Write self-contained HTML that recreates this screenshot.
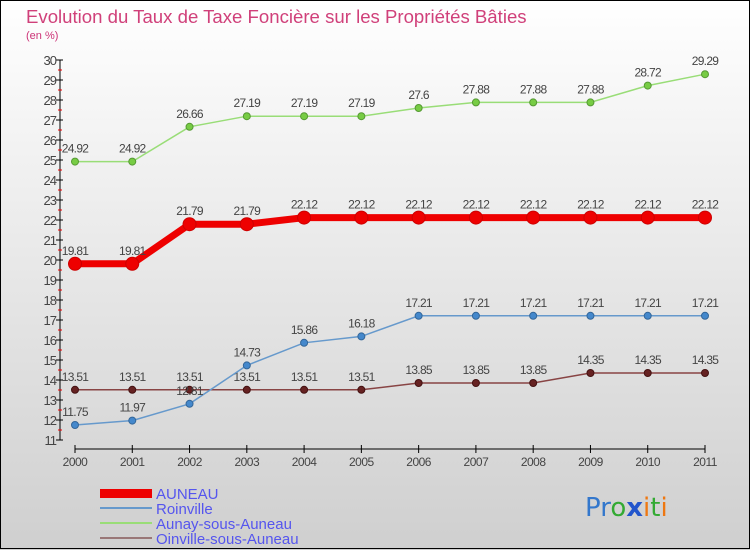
<!DOCTYPE html>
<html><head><meta charset="utf-8"><style>
body{margin:0}
svg{display:block;font-family:"Liberation Sans",sans-serif}
</style></head><body>
<svg width="750" height="550" viewBox="0 0 750 550">
<defs><linearGradient id="bg" x1="0" y1="0" x2="0" y2="1"><stop offset="0" stop-color="#ffffff"/><stop offset="1" stop-color="#cfcfcf"/></linearGradient></defs>
<rect x="0" y="0" width="750" height="550" fill="url(#bg)"/>
<rect x="0.5" y="0.5" width="749" height="548" fill="none" stroke="#000"/>
<text x="26" y="23" font-size="18.6" fill="#d0407a">Evolution du Taux de Taxe Foncière sur les Propriétés Bâties</text>
<text x="26" y="39" font-size="11" fill="#cc3377">(en %)</text>
<g id="axes"></g>
<g id="series"></g>
<g>
<rect x="100" y="489" width="52" height="9" fill="#ee0000"/>
<text x="156" y="499" font-size="15" fill="#5555ee">AUNEAU</text>
<line x1="100" y1="508" x2="152" y2="508" stroke="#6699cc" stroke-width="2"/>
<text x="156" y="514" font-size="15" fill="#5555ee">Roinville</text>
<line x1="100" y1="523" x2="152" y2="523" stroke="#99dd77" stroke-width="2"/>
<text x="156" y="529" font-size="15" fill="#5555ee">Aunay-sous-Auneau</text>
<line x1="100" y1="538" x2="152" y2="538" stroke="#997777" stroke-width="2"/>
<text x="156" y="544" font-size="15" fill="#5555ee">Oinville-sous-Auneau</text>
</g>
<g font-size="26" font-family="'DejaVu Sans',sans-serif">
<text x="585" y="516"><tspan fill="#3377cc">Pr</tspan><tspan fill="#33aa33">o</tspan><tspan fill="#2255cc" font-weight="bold">x</tspan><tspan fill="#ee7711">i</tspan><tspan fill="#33aa33">t</tspan><tspan fill="#ee7711">i</tspan></text>
</g>
</svg>
<script>
const years=[2000,2001,2002,2003,2004,2005,2006,2007,2008,2009,2010,2011];
const yTicks=[11,12,13,14,15,16,17,18,19,20,21,22,23,24,25,26,27,28,29,30];
const auneau=[19.81,19.81,21.79,21.79,22.12,22.12,22.12,22.12,22.12,22.12,22.12,22.12];
const roinville=[11.75,11.97,12.81,14.73,15.86,16.18,17.21,17.21,17.21,17.21,17.21,17.21];
const aunay=[24.92,24.92,26.66,27.19,27.19,27.19,27.6,27.88,27.88,27.88,28.72,29.29];
const oinville=[13.51,13.51,13.51,13.51,13.51,13.51,13.85,13.85,13.85,14.35,14.35,14.35];
const NS='http://www.w3.org/2000/svg';
const X=i=>75+i*(630/(years.length-1));
const Y=v=>60+(30-v)*20;
function mk(tag,attrs,parent,txt){const e=document.createElementNS(NS,tag);for(const k in attrs)e.setAttribute(k,attrs[k]);if(txt!==undefined)e.textContent=txt;parent.appendChild(e);return e;}
const ax=document.getElementById('axes');
let l=mk('line',{x1:60,y1:Y(30),x2:60,y2:Y(11),stroke:'#000'},ax);


yTicks.forEach(v=>{
  mk('line',{x1:56,y1:Y(v),x2:63,y2:Y(v),stroke:'#000'},ax);
  if(v<30)mk('line',{x1:58,y1:Y(v)-10,x2:62,y2:Y(v)-10,stroke:'#e00'},ax);
  const t=mk('text',{x:56,y:Y(v)+5,'text-anchor':'end','font-size':13,fill:'#444','letter-spacing':'-1'},ax,v);
  
  
});
l=mk('line',{x1:75,y1:449,x2:705,y2:449,stroke:'#000'},ax);


years.forEach((y,i)=>{
  mk('line',{x1:X(i),y1:445,x2:X(i),y2:453,stroke:'#000'},ax);
  const t=mk('text',{x:X(i),y:466,'text-anchor':'middle','font-size':12,fill:'#444','letter-spacing':'-0.5'},ax,y);
  
  
});
const sg=document.getElementById('series');
function series(vals,name,color,dot,w,r,dark){
  const g=mk('g',{},sg);
  
  
  const p=mk('polyline',{points:vals.map((v,i)=>X(i)+','+Y(v)).join(' '),fill:'none',stroke:color,'stroke-width':w},g);
  
  
  vals.forEach((v,i)=>{
    const c=mk('circle',{cx:X(i),cy:Y(v),r:r,fill:dot,stroke:dark,'stroke-width':1},g);
    
    
    const t=mk('text',{x:X(i),y:Y(v)-9,'text-anchor':'middle','font-size':12,fill:'#444','letter-spacing':'-0.7'},g,v);
    
    
  });
}
series(aunay,'aunay','#99dd77','#77cc44',1.5,3.5,'#559933');
series(oinville,'oinville','#884444','#662222',1.5,3.5,'#441111');
series(roinville,'roinville','#6699cc','#4488cc',1.5,3.5,'#336699');
series(auneau,'auneau','#ee0000','#ee0000',7,6.5,'#cc0000');
</script>
</body></html>
